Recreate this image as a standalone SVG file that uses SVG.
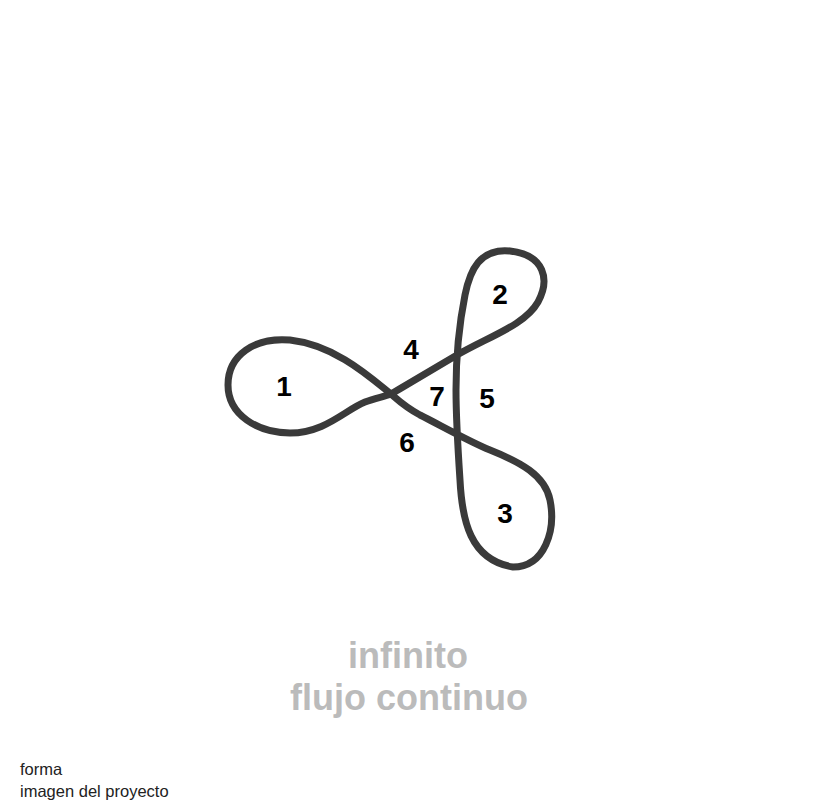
<svg xmlns="http://www.w3.org/2000/svg" width="816" height="803" viewBox="0 0 816 803">
<style>
.curve{fill:none;stroke:#3a3a3a;stroke-width:7;stroke-linejoin:round;stroke-linecap:round}
.num{font-family:"Liberation Sans",Arial,sans-serif;font-weight:bold;font-size:28px;fill:#000;text-anchor:middle}
.title{font-family:"Liberation Sans",Arial,sans-serif;font-weight:bold;font-size:36px;fill:#bbbbbb;text-anchor:middle}
.foot{font-family:"Liberation Sans",Arial,sans-serif;font-size:16.5px;fill:#222}
</style>
<rect width="816" height="803" fill="#fff"/>
<g id="connectors">
<path class="curve" d="M391,394 C370,377 335,345 290,340 C255,337 228,355 228,385 C228,415 258,433 290,433 C325,433 345,410 365,402 C375,398 383,397 391,394 C415,380 440,365 457,355 C490,336 525,325 538,302 C550,280 545,255 510,251 C480,248 470,270 465,295 C458,330 456,360 456,390 C456,420 458,450 460,480 C462,520 470,560 513,567 C545,567 556,530 550,500 C545,475 520,462 490,450 C470,442 440,425 420,415 C405,407 398,400 391,394 Z"/>
</g>
<g id="n1"><text class="num" x="284" y="396">1</text></g>
<g id="n2"><text class="num" x="500" y="304">2</text></g>
<g id="n3"><text class="num" x="505" y="523">3</text></g>
<g id="n4"><text class="num" x="411" y="359">4</text></g>
<g id="n5"><text class="num" x="487" y="408">5</text></g>
<g id="n6"><text class="num" x="407" y="452">6</text></g>
<g id="n7"><text class="num" x="437" y="406">7</text></g>
<g id="title">
<text class="title" x="408" y="668">infinito</text>
<text class="title" x="409" y="710">flujo continuo</text>
</g>
<g id="footer">
<text class="foot" x="20" y="775">forma</text>
<text class="foot" x="20" y="797">imagen del proyecto</text>
</g>
</svg>
